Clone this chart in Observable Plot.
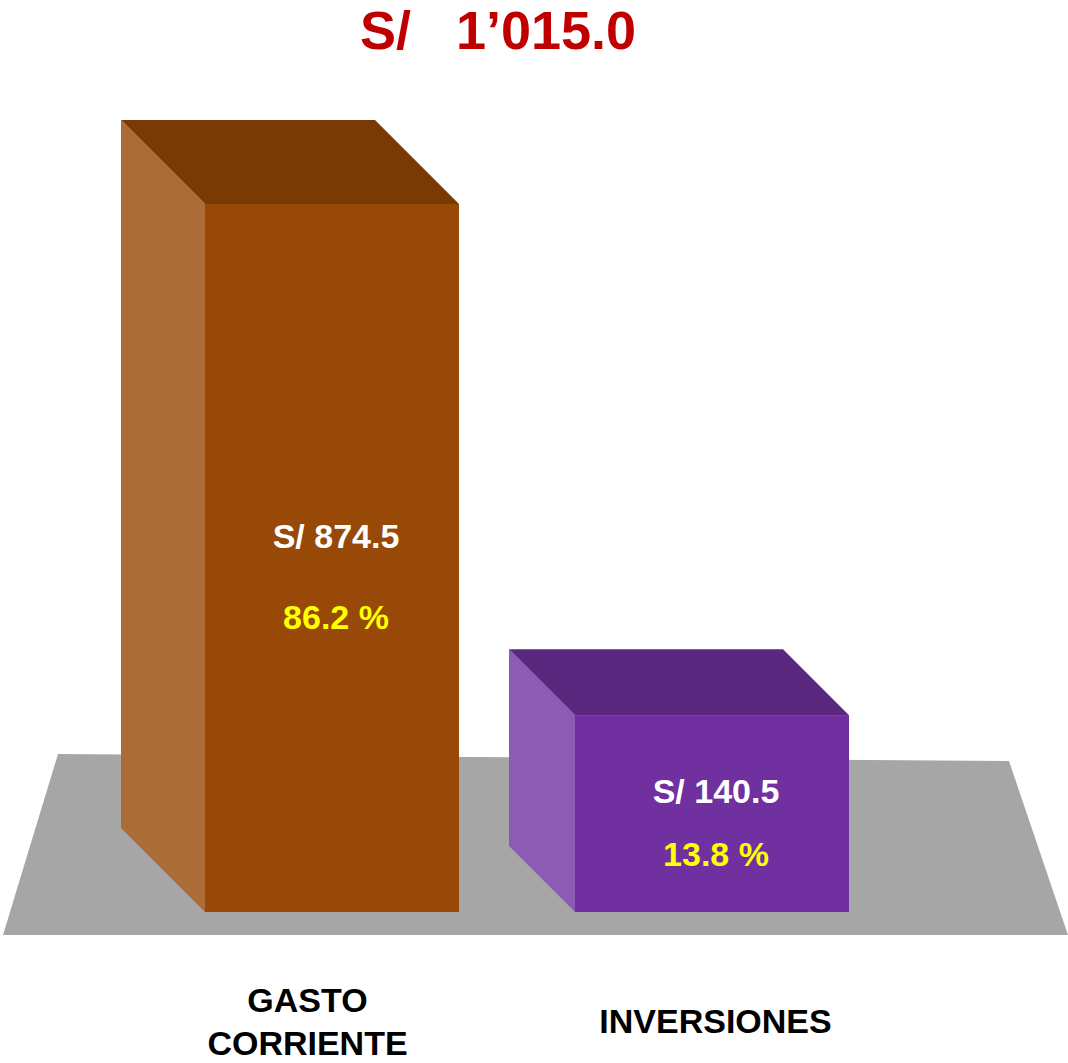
<!DOCTYPE html>
<html><head><meta charset="utf-8">
<script src="https://cdn.jsdelivr.net/npm/d3@7"></script>
<script src="https://cdn.jsdelivr.net/npm/@observablehq/plot@0.6"></script>
<style>
body{margin:0;background:#fff;width:1068px;font-family:"Liberation Sans",Arial,sans-serif;}
#title{height:62px;font-size:54px;line-height:61px;font-weight:bold;color:#C00000;text-align:center;padding-right:72px;white-space:pre;overflow:visible;}
#chart svg{display:block;overflow:visible;}
</style></head><body>
<div id="title"></div>
<div id="chart"></div>
<script>
// ---- data ----
const categories = ["GASTO CORRIENTE", "INVERSIONES"];
const amounts = [874.5, 140.5];
const shares = [86.2, 13.8];
const total = 1015.0;

// ---- styles (not data) ----
const faceColors = {
  "GASTO CORRIENTE": {front: "#984807", side: "#AC6C37", top: "#7A3A05"},
  "INVERSIONES": {front: "#7030A0", side: "#8D5BB3", top: "#5A287F"}
};
const depth = {"GASTO CORRIENTE": 84, "INVERSIONES": 66};
const inset = {"GASTO CORRIENTE": 5, "INVERSIONES": -5};
const FONT = "'Liberation Sans', Arial, sans-serif";

const data = categories.map((c, i) => ({cat: c, value: amounts[i], share: shares[i]}));

document.getElementById("title").textContent =
  "S/   " + d3.format(",.1f")(total).replace(",", "\u2019");

// floor + side/top faces
const faces = (index, {x, y}, values, dims) => {
  const g = d3.create("svg:g");
  const y0 = y(0);
  g.append("path")
    .attr("d", `M58,${y0 - 158}L1009,${y0 - 151}L${dims.width},${y0 + 23}L3,${y0 + 23}Z`)
    .attr("fill", "#A6A6A6");
  data.forEach(d => {
    const x0 = x(d.cat) + inset[d.cat], x1 = x(d.cat) + x.bandwidth() - inset[d.cat];
    const yt = y(d.value), k = depth[d.cat], c = faceColors[d.cat];
    g.append("path")
      .attr("d", `M${x0 - k},${yt - k}L${x0},${yt}L${x0},${y0}L${x0 - k},${y0 - k}Z`)
      .attr("fill", c.side);
    g.append("path")
      .attr("d", `M${x0 - k},${yt - k}L${x1 - k},${yt - k}L${x1},${yt}L${x0},${yt}Z`)
      .attr("fill", c.top);
  });
  return g.node();
};

// value labels inside bars
const valueLabels = (index, {x, y}) => {
  const g = d3.create("svg:g")
    .attr("font-family", FONT).attr("font-weight", "bold")
    .attr("font-size", 34).attr("text-anchor", "middle");
  data.forEach(d => {
    const cx = x(d.cat) + x.bandwidth() / 2 + 4;
    const yt = y(d.value), y0 = y(0), h = y0 - yt, mid = (yt + y0) / 2;
    const y1 = mid - 22, y2 = y1 + 55 + 0.037 * h;
    g.append("text").attr("x", cx).attr("y", y1).attr("dy", "0.35em")
      .attr("fill", "#FFFFFF").text("S/ " + d3.format(".1f")(d.value));
    g.append("text").attr("x", cx).attr("y", y2).attr("dy", "0.35em")
      .attr("fill", "#FFFF00").text(d3.format(".1f")(d.share) + " %");
  });
  return g.node();
};

const frontBar = (cat) => Plot.barY(data, {
  filter: d => d.cat === cat,
  x: "cat", y: "value",
  fill: d => faceColors[d.cat].front,
  insetLeft: inset[cat], insetRight: inset[cat]
});

const catText = (cat, dx) => Plot.text(data, {
  filter: d => d.cat === cat,
  x: "cat",
  text: d => d.cat.replace(" ", "\n"),
  frameAnchor: "bottom",
  dy: 107,
  dx,
  lineAnchor: "middle",
  lineHeight: 1.27,
  fontSize: 34,
  fontWeight: "bold",
  fontFamily: FONT,
  fill: "#000000"
});

const chart = Plot.plot({
  width: 1068,
  height: 1001,
  marginTop: 142,
  marginBottom: 151,
  marginLeft: 84,
  marginRight: 108,
  style: {background: "#fff", fontFamily: FONT, overflow: "visible"},
  x: {type: "band", domain: categories, padding: 0.305, axis: null},
  y: {type: "pow", exponent: 0.7, domain: [0, 874.5], axis: null},
  color: {type: "identity"},
  marks: [
    faces,
    frontBar(categories[0]),
    frontBar(categories[1]),
    valueLabels,
    catText(categories[0], -25),
    catText(categories[1], 3)
  ]
});
document.getElementById("chart").appendChild(chart);
</script>
</body></html>
